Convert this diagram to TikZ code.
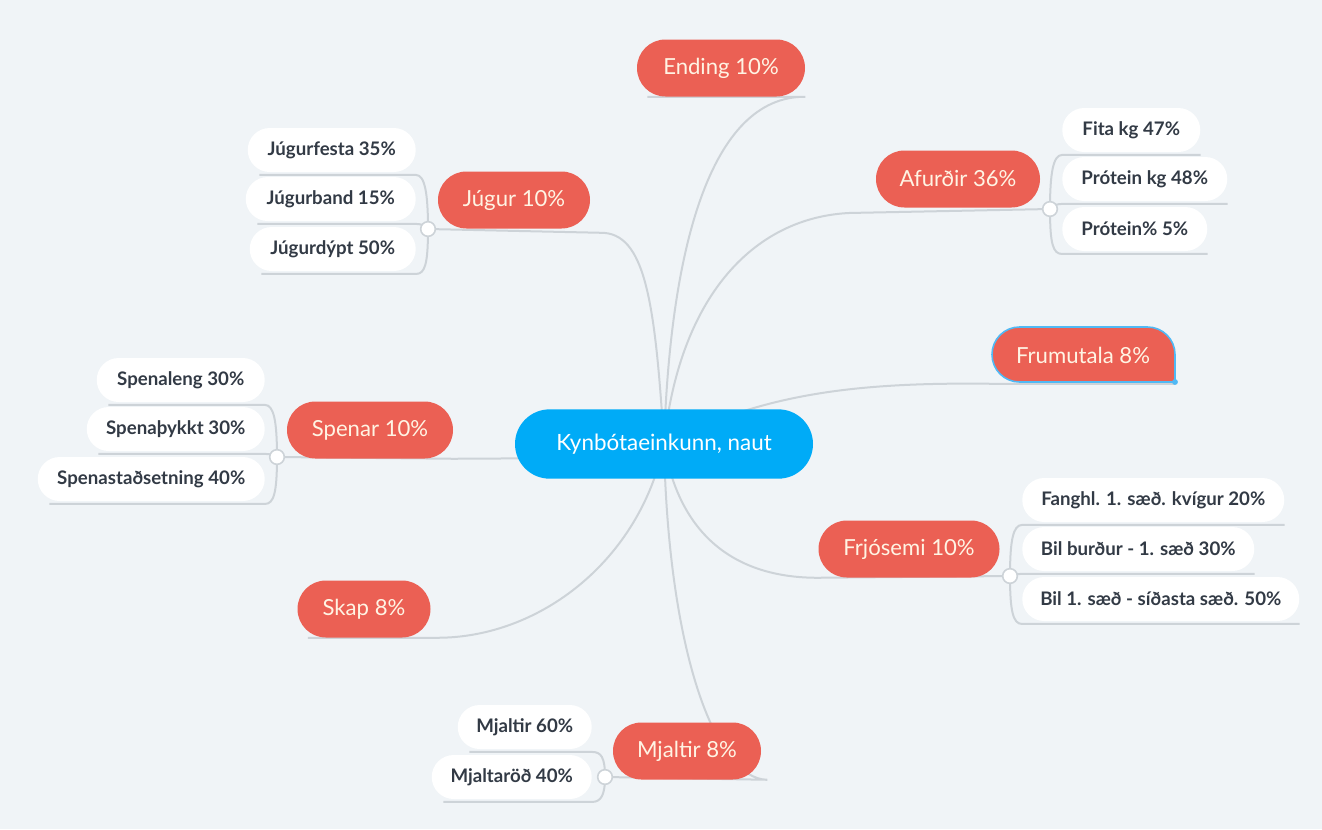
\documentclass[tikz,border=0pt]{standalone}
\usepackage{fontspec}
\setmainfont{Lato}
\usetikzlibrary{calc,backgrounds}
\definecolor{bgcol}{RGB}{240,244,247}
\definecolor{rootblue}{RGB}{0,171,247}
\definecolor{branchred}{RGB}{235,96,84}
\definecolor{cream}{RGB}{255,244,228}
\definecolor{leafink}{RGB}{50,58,69}
\definecolor{linkgrey}{RGB}{205,211,216}
\definecolor{selblue}{RGB}{80,185,245}

\begin{document}
\begin{tikzpicture}[x=0.75pt,y=-0.75pt,
	root/.style={fill=rootblue,text=white,font=\fontsize{16.8}{20}\selectfont,minimum height=52pt,minimum width=223.5pt,inner xsep=8pt,rounded corners=26pt},
	branch/.style={fill=branchred,text=cream,font=\fontsize{16.6}{20}\selectfont,minimum height=42.75pt,minimum width=#1,inner xsep=8pt,rounded corners=21.3pt},
	branch/.default=120pt,
	leaf/.style={fill=white,text=leafink,font=\bfseries\fontsize{14}{17}\selectfont,minimum height=33pt,minimum width=#1,inner xsep=6pt,rounded corners=16.5pt},
	leaf/.default=120pt,
	link/.style={draw=linkgrey,line width=1.5pt},
	knob/.style={circle,fill=white,draw=linkgrey,line width=1.2pt,inner sep=0pt,minimum size=11pt}]
		\useasboundingbox (0,0) rectangle (1322,829);
		\node[root] (c) at (664,444) {Kynbótaeinkunn, naut};
		\node[branch=126pt] (end) at (721,68) {Ending 10\%};
		\node[branch=114pt] (jug) at (514,200) {Júgur 10\%};
		\node[branch=123pt] (afu) at (958,179) {Afurðir 36\%};
		\node[branch=137.25pt,fill=none] (fru) at (1083,355) {Frumutala 8\%};
		\node[branch=124.5pt] (spe) at (370,430) {Spenar 10\%};
		\node[branch=135.75pt] (frj) at (909,549) {Frjósemi 10\%};
		\node[branch=99.75pt] (ska) at (364,609) {Skap 8\%};
		\node[branch=111pt] (mja) at (687,751) {Mjaltir 8\%};
		\node[leaf=126pt,anchor=east] (j1) at (416,150) {Júgurfesta 35\%};
		\node[leaf=127.5pt,anchor=east] (j2) at (416,199) {Júgurband 15\%};
		\node[leaf=124.5pt,anchor=east] (j3) at (416,249) {Júgurdýpt 50\%};
		\node[leaf=103.5pt,anchor=west] (a1) at (1062,130) {Fita kg 47\%};
		\node[leaf=123.75pt,anchor=west] (a2) at (1062,179) {Prótein kg 48\%};
		\node[leaf=108.75pt,anchor=west] (a3) at (1062,229) {Prótein\% 5\%};
		\node[leaf=126pt,anchor=east] (s1) at (265,380) {Spenaleng 30\%};
		\node[leaf=133.5pt,anchor=east] (s2) at (265,429) {Spenaþykkt 30\%};
		\node[leaf=170.25pt,anchor=east] (s3) at (265,479) {Spenastaðsetning 40\%};
		\node[leaf=196.5pt,anchor=west] (f1) at (1022,500) {Fanghl. 1. sæð. kvígur 20\%};
		\node[leaf=174pt,anchor=west] (f2) at (1022,549) {Bil burður - 1. sæð 30\%};
		\node[leaf=207.75pt,anchor=west] (f3) at (1022,599) {Bil 1. sæð - síðasta sæð. 50\%};
		\node[leaf=100.5pt,anchor=east] (m1) at (592,727) {Mjaltir 60\%};
		\node[leaf=120pt,anchor=east] (m2) at (592,777) {Mjaltaröð 40\%};
		\node[knob] (jk) at (428,229) {};
		\node[knob] (ak) at (1050,209) {};
		\node[knob] (sk) at (277,457) {};
		\node[knob] (fk) at (1010,576) {};
		\node[knob] (mk) at (605,777) {};
		\begin{scope}[on background layer]
			\fill[bgcol] (0,0) rectangle (1322,829);
			\draw[link] (c.center) .. controls (670,250) and (710,96) .. (end.south east) -- ([xshift=8pt]end.south west);
			\draw[link] (c.center) .. controls (655,300) and (645,232) .. ([xshift=7.5pt,yshift=-3pt]jug.south east) -- (jk.center);
			\draw[link] (c.center) .. controls (680,290) and (760,212) .. ([xshift=-12pt,yshift=-3.75pt]afu.south west) -- (ak.center);
			\draw[link] (c.center) .. controls (760,395) and (850,382) .. (fru.south west) -- (fru.south east);
			\draw[link] (c.center) .. controls (600,458) .. (spe.south east) -- (sk.center);
			\draw[link] (c.center) .. controls (680,540) and (740,578) .. (frj.south west) -- (fk.center);
			\draw[link] (c.center) .. controls (640,560) and (540,638) .. ([xshift=4.5pt]ska.south east) -- ([xshift=8pt]ska.south west);
			\draw[link] (c.center) .. controls (668,650) and (715,779) .. ([xshift=4.5pt]mja.south east) -- (mk.center);
			\foreach \k/\d in {j1/-35,j2/0,j3/35}
				\draw[link] ([xshift=9pt,yshift=-2pt]\k.south west) -- ([yshift=-2pt]\k.south east) .. controls +(9,0) and +(0,\d) .. (jk.center);
			\foreach \k/\d in {s1/-35,s2/0,s3/35}
				\draw[link] ([xshift=9pt,yshift=-2pt]\k.south west) -- ([yshift=-2pt]\k.south east) .. controls +(9,0) and +(0,\d) .. (sk.center);
			\foreach \k/\d in {m1/-20,m2/18}
				\draw[link] ([xshift=9pt,yshift=-2pt]\k.south west) -- ([yshift=-2pt]\k.south east) .. controls +(9,0) and +(0,\d) .. (mk.center);
			\foreach \k/\d in {a1/-35,a2/0,a3/35}
				\draw[link] (ak.center) .. controls +(0,\d) and +(-9,0) .. ([yshift=-2pt]\k.south west) -- ([yshift=-2pt]\k.south east);
			\foreach \k/\d in {f1/-35,f2/0,f3/35}
				\draw[link] (fk.center) .. controls +(0,\d) and +(-9,0) .. ([yshift=-2pt]\k.south west) -- ([yshift=-2pt]\k.south east);
			\filldraw[fill=branchred,draw=selblue,line width=1.2pt] (1175,382) -- (1019.5,382) .. controls (1004.3,382) and (992,369.7) .. (992,354.5) .. controls (992,339.3) and (1004.3,327) .. (1019.5,327) -- (1147.5,327) .. controls (1162.7,327) and (1175,339.3) .. (1175,354.5) -- cycle;
			\fill[selblue] (1175,382) circle (2.2pt);
		\end{scope}
\end{tikzpicture}
\end{document}
